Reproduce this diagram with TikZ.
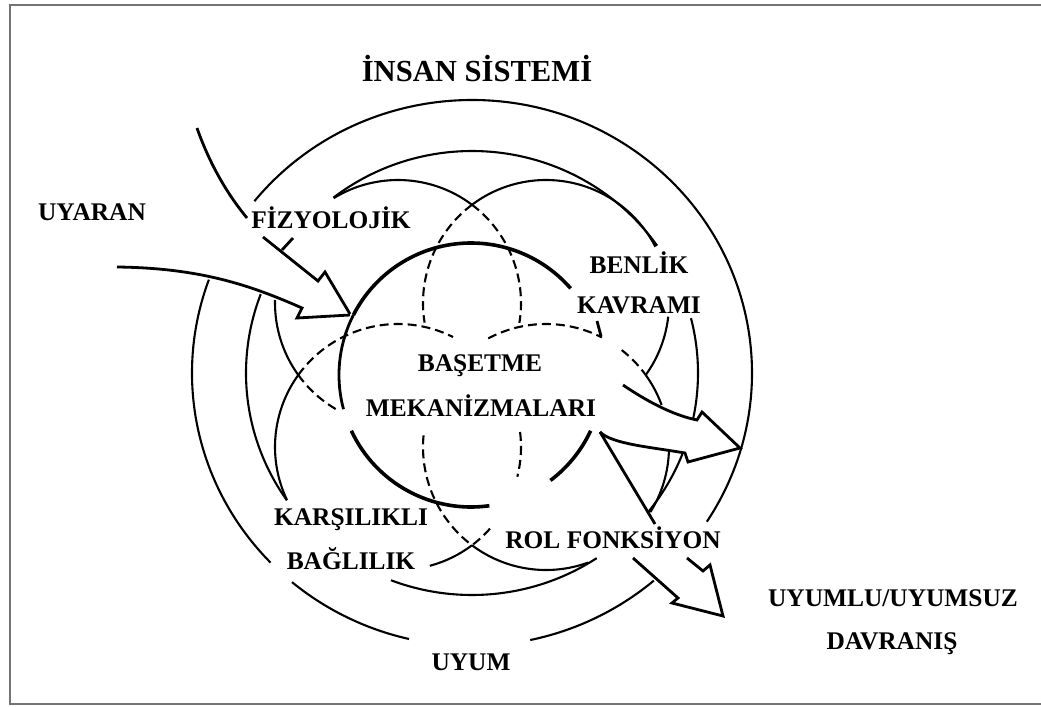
\documentclass[tikz,border=0pt]{standalone}
\usepackage{fontspec}
\setmainfont{Liberation Serif}
\usepackage{tikz}

\newcommand\lblfont{\fontsize{12.7}{14}\selectfont\bfseries}
\newcommand\ttlfont{\fontsize{15.3}{17}\selectfont\bfseries}

\tikzset{
  ring/.style={line width=1.05pt},
  mode/.style={line width=1.05pt},
  hid/.style={line width=1.05pt, dash pattern=on 4.5pt off 2.5pt},
  core/.style={line width=1.8pt},
  flow/.style={line width=1.4pt, line join=miter, miter limit=20},
  lbl/.style={font=\lblfont, anchor=base, inner sep=0pt},
}

\begin{document}
\begin{tikzpicture}[x=0.5pt,y=-0.5pt]
    \useasboundingbox (0,0) rectangle (1041,707);
    \clip (0,0) rectangle (1041,707);

    % Frame
    \draw[black!55,line width=1.3pt] (10,5) rectangle (1060,704);

    % Centres
    \coordinate (O) at (472,373);
    \coordinate (C) at (471,375);
    \coordinate (TL) at (398,303);
    \coordinate (TR) at (546,303);
    \coordinate (BL) at (398,447);
    \coordinate (BR) at (546,447);

    % Labels
    \node[lbl,font=\ttlfont] (baslik) at (477,81) {İNSAN SİSTEMİ};
    \node[lbl] (uyaran) at (92,220) {UYARAN};
    \node[lbl] (fizyo) at (331,228) {FİZYOLOJİK};
    \node[lbl] (benlik) at (639,273) {BENLİK};
    \node[lbl] (kavram) at (639,313) {KAVRAMI};
    \node[lbl] (basetme) at (480,371) {BAŞETME};
    \node[lbl] (mekanizma) at (481,416) {MEKANİZMALARI};
    \node[lbl] (karsilik) at (351,525) {KARŞILIKLI};
    \node[lbl] (baglilik) at (351,569) {BAĞLILIK};
    \node[lbl] (rol) at (613,548) {ROL FONKSİYON};
    \node[lbl] (uyumlu) at (893,606) {UYUMLU/UYUMSUZ};
    \node[lbl] (davranis) at (892,649) {DAVRANIŞ};
    \node[lbl] (uyum) at (471,670) {UYUM};

    % Outer ring (uyum)
    \draw[ring] ([shift={(-141:280 and 273)}]O) arc[start angle=-141, end angle=33, x radius=280, y radius=273];
    \draw[ring] ([shift={(49.5:280 and 273)}]O) arc[start angle=49.5, end angle=78, x radius=280, y radius=273];
    \draw[ring] ([shift={(103:280 and 273)}]O) arc[start angle=103, end angle=130, x radius=280, y radius=273];
    \draw[ring] ([shift={(136:280 and 273)}]O) arc[start angle=136, end angle=200, x radius=280, y radius=273];

    % Second ring, outer edges of the four modes
    \draw[ring] ([shift={(-127.8:226 and 222)}]O) arc[start angle=-127.8, end angle=-35, x radius=226, y radius=222];
    \draw[ring] ([shift={(-14.3:226 and 222)}]O) arc[start angle=-14.3, end angle=12, x radius=226, y radius=222];
    \draw[ring] ([shift={(21.4:226 and 222)}]O) arc[start angle=21.4, end angle=38.6, x radius=226, y radius=222];
    \draw[ring] ([shift={(56.5:226 and 222)}]O) arc[start angle=56.5, end angle=111, x radius=226, y radius=222];
    \draw[ring] ([shift={(145:226 and 222)}]O) arc[start angle=145, end angle=200.8, x radius=226, y radius=222];

    % Mode circle, top left
    \draw[mode] ([shift={(-121.5:123)}]TL) arc[start angle=-121.5, end angle=-53, radius=123];
    \draw[hid] ([shift={(-53:123)}]TL) arc[start angle=-53, end angle=9.3, radius=123];
    \draw[mode] ([shift={(181.4:123)}]TL) arc[start angle=181.4, end angle=144.2, radius=123];
    \draw[hid] ([shift={(144.2:123)}]TL) arc[start angle=144.2, end angle=118.5, radius=123];

    % Mode circle, top right
    \draw[mode] ([shift={(-127:123)}]TR) arc[start angle=-127, end angle=-27.2, radius=123];
    \draw[hid] ([shift={(-127:123)}]TR) arc[start angle=-127, end angle=-189.2, radius=123];
    \draw[mode] ([shift={(6.4:123)}]TR) arc[start angle=6.4, end angle=35.8, radius=123];

    % Mode circle, bottom left
    \draw[mode] ([shift={(154.5:123)}]BL) arc[start angle=154.5, end angle=215.8, radius=123];
    \draw[hid] ([shift={(215.8:123)}]BL) arc[start angle=215.8, end angle=296.6, radius=123];
    \draw[hid] ([shift={(-7:123)}]BL) arc[start angle=-7, end angle=14, radius=123];
    \draw[hid] ([shift={(41.6:123)}]BL) arc[start angle=41.6, end angle=53, radius=123];
    \draw[mode] ([shift={(53:123)}]BL) arc[start angle=53, end angle=75, radius=123];

    % Mode circle, bottom right
    \draw[hid] ([shift={(-118:123)}]BR) arc[start angle=-118, end angle=-63, radius=123];
    \draw[hid] ([shift={(-52:123)}]BR) arc[start angle=-52, end angle=-35.8, radius=123];
    \draw[mode] ([shift={(-35.8:123)}]BR) arc[start angle=-35.8, end angle=-20, radius=123];
    \draw[mode] ([shift={(1.4:123)}]BR) arc[start angle=1.4, end angle=32, radius=123];
    \draw[hid] ([shift={(185.4:123)}]BR) arc[start angle=185.4, end angle=127, radius=123];
    \draw[mode] ([shift={(127:123)}]BR) arc[start angle=127, end angle=70, radius=123];
    \draw[flow] (597,321) -- (601,336);

    % Coping mechanisms (centre)
    \draw[core] ([shift={(-153:132)}]C) arc[start angle=-153, end angle=-41, radius=132];
    \draw[flow] ([shift={(165:132)}]C) arc[start angle=165, end angle=207, radius=132];
    \draw[core] ([shift={(155:132)}]C) arc[start angle=155, end angle=82, radius=132];
    \draw[core] ([shift={(53:132)}]C) arc[start angle=53, end angle=25, radius=132];

    % Input arrows
    \draw[flow] (117,267) .. controls (200,268) and (250,285) .. (302,308) -- (297,318) -- (350,315);
    \draw[flow] (197,128) .. controls (210,165) and (228,195) .. (247,218);
    \draw[flow] (263,237) -- (318,281) -- (325,272) -- (350,314);
    \draw[flow] (282,250) -- (293,238);

    % Output arrows
    \draw[flow] (623,385) .. controls (645,400) and (672,415) .. (697,420) -- (702,412) -- (740,448)
        -- (688,462) -- (685,453) .. controls (650,447) and (612,444) .. (600,432);
    \draw[flow] (600,432) -- (655,524);
    \draw[flow] (633,558) -- (678,598) -- (672,603) -- (723,616) -- (710,565) -- (703,571) -- (687,558);
\end{tikzpicture}
\end{document}
